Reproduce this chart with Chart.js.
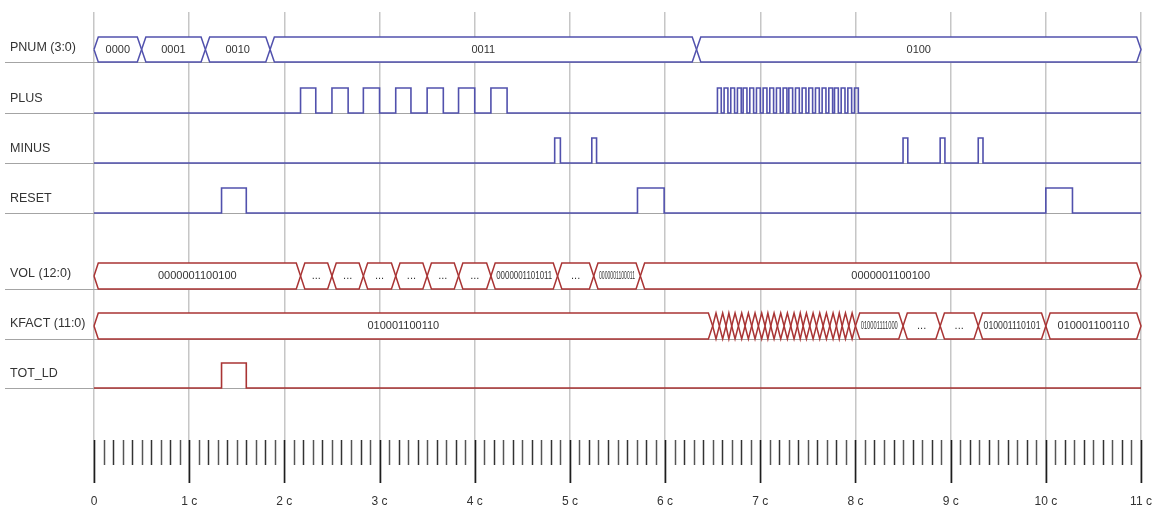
<!DOCTYPE html>
<html>
<head>
<meta charset="utf-8">
<script src="https://cdn.jsdelivr.net/npm/chart.js@4"></script>
<style>
  html, body { margin: 0; padding: 0; background: #ffffff; }
  #wrap { width: 1153px; height: 508px; }
</style>
</head>
<body>
<div id="wrap"><canvas id="tim" width="1153" height="508"></canvas></div>
<script>
// ---- time axis (clock cycles) ----
const cycleLabels = ['0', '1 c', '2 c', '3 c', '4 c', '5 c', '6 c', '7 c', '8 c', '9 c', '10 c', '11 c'];

// ---- PNUM (3:0) bus ----
const pnumEdges  = [0, 0.5, 1.17, 1.85, 6.33, 11];
const pnumValues = ['0000', '0001', '0010', '0011', '0100'];

// ---- PLUS pulses ----
const plusRise = [2.17, 2.5, 2.83, 3.17, 3.5, 3.83, 4.17,
  6.55, 6.62, 6.69, 6.76, 6.82, 6.89, 6.96, 7.03, 7.1, 7.17, 7.24,
  7.3, 7.37, 7.44, 7.51, 7.58, 7.65, 7.72, 7.78, 7.85, 7.92, 7.99];
const plusFall = [2.33, 2.67, 3.0, 3.33, 3.67, 4.0, 4.34,
  6.59, 6.66, 6.73, 6.8, 6.86, 6.93, 7.0, 7.07, 7.14, 7.21, 7.28,
  7.34, 7.41, 7.48, 7.55, 7.62, 7.69, 7.76, 7.82, 7.89, 7.96, 8.03];

// ---- MINUS pulses ----
const minusRise = [4.84, 5.23, 8.5, 8.89, 9.29];
const minusFall = [4.9, 5.28, 8.55, 8.94, 9.34];

// ---- RESET pulses ----
const resetRise = [1.34, 5.71, 10.0];
const resetFall = [1.6, 5.99, 10.28];

// ---- VOL (12:0) bus ----
const volEdges  = [0, 2.17, 2.5, 2.83, 3.17, 3.5, 3.83, 4.17, 4.87, 5.25, 5.74, 11];
const volValues = ['0000001100100', '...', '...', '...', '...', '...', '...',
  '0000001101011', '...', '0000001100011', '0000001100100'];

// ---- KFACT (11:0) bus ----
const kfactEdges = [0, 6.5, 6.57, 6.64, 6.7, 6.77, 6.84, 6.91, 6.98, 7.05, 7.11, 7.18,
  7.25, 7.32, 7.39, 7.45, 7.52, 7.59, 7.66, 7.73, 7.8, 7.86, 7.93, 8.0,
  8.5, 8.89, 9.29, 10.0, 11];
const kfactValues = ['010001100110',
  '', '', '', '', '', '', '', '', '', '', '', '', '', '', '', '', '', '', '', '', '', '',
  '010001111000', '...', '...', '010001110101', '010001100110'];

// ---- TOT_LD pulse ----
const totRise = [1.34];
const totFall = [1.6];

// ---- row layout (y in px below the top of the plot area) ----
const BLUE = '#5151ad';
const RED = '#a93434';
const rows = [
  { name: 'PNUM (3:0)',   top: 25,  bot: 50 },
  { name: 'PLUS',         top: 76,  bot: 101 },
  { name: 'MINUS',        top: 126, bot: 151 },
  { name: 'RESET',        top: 176, bot: 201 },
  { name: 'VOL (12:0)',   top: 251, bot: 277 },
  { name: 'KFACT (11:0)', top: 301, bot: 327 },
  { name: 'TOT_LD',       top: 351, bot: 376 }
];
const RULER_TOP = 428, RULER_MINOR = 453, RULER_BOT = 471;
const SLANT = 0.045;   // half width of a bus transition, in cycles
const FONT = '"Liberation Sans", Arial, sans-serif';

function pulseTrain(rise, fall, row) {
  const pts = [{ x: 0, y: row.bot }];
  rise.forEach((r, i) => {
    pts.push({ x: r, y: row.bot }, { x: r, y: row.top },
             { x: fall[i], y: row.top }, { x: fall[i], y: row.bot });
  });
  pts.push({ x: 11, y: row.bot });
  return pts;
}

function hexagon(ts, te, row) {
  const d = Math.min(SLANT, (te - ts) / 2);
  const mid = (row.top + row.bot) / 2;
  return [
    { x: ts, y: mid }, { x: ts + d, y: row.top }, { x: te - d, y: row.top },
    { x: te, y: mid }, { x: te - d, y: row.bot }, { x: ts + d, y: row.bot },
    { x: ts, y: mid }
  ];
}

const datasets = [];
const busLabels = [];
function addBus(edges, values, row, color) {
  for (let i = 0; i < values.length; i++) {
    datasets.push({
      data: hexagon(edges[i], edges[i + 1], row),
      borderColor: color, borderWidth: 1.5,
      backgroundColor: '#ffffff', fill: 'shape',
      pointRadius: 0, tension: 0, clip: false
    });
    busLabels.push({ ts: edges[i], te: edges[i + 1], text: values[i], row: row });
  }
}
function addSignal(rise, fall, row, color) {
  datasets.push({
    data: pulseTrain(rise, fall, row),
    borderColor: color, borderWidth: 1.6, fill: false,
    pointRadius: 0, tension: 0, clip: false
  });
}

addBus(pnumEdges, pnumValues, rows[0], BLUE);
addSignal(plusRise, plusFall, rows[1], BLUE);
addSignal(minusRise, minusFall, rows[2], BLUE);
addSignal(resetRise, resetFall, rows[3], BLUE);
addBus(volEdges, volValues, rows[4], RED);
addBus(kfactEdges, kfactValues, rows[5], RED);
addSignal(totRise, totFall, rows[6], RED);

// baselines, signal names and clock ruler
const timingDecor = {
  id: 'timingDecor',
  beforeDatasetsDraw(chart) {
    const { ctx, scales: { x, y } } = chart;
    ctx.save();
    ctx.strokeStyle = '#a4a4a4';
    ctx.lineWidth = 1.2;
    rows.forEach(r => {
      const py = Math.round(y.getPixelForValue(r.bot)) + 0.5;
      ctx.beginPath();
      ctx.moveTo(5, py);
      ctx.lineTo(x.getPixelForValue(11), py);
      ctx.stroke();
    });
    // names
    ctx.fillStyle = '#333333';
    ctx.font = '12.5px ' + FONT;
    ctx.textBaseline = 'middle';
    ctx.textAlign = 'left';
    rows.forEach(r => {
      ctx.fillText(r.name, 10, y.getPixelForValue((r.top + r.bot) / 2) - 2);
    });
    // ruler
    const yt = y.getPixelForValue(RULER_TOP);
    const ym = y.getPixelForValue(RULER_MINOR);
    const yb = y.getPixelForValue(RULER_BOT);
    for (let i = 0; i <= 110; i++) {
      const px = Math.round(x.getPixelForValue(i / 10)) + 0.5;
      const major = i % 10 === 0;
      ctx.strokeStyle = major ? '#1e1e1e' : (i % 2 ? '#555555' : '#333333');
      ctx.lineWidth = major ? 1.6 : 1.5;
      ctx.beginPath();
      ctx.moveTo(px, yt);
      ctx.lineTo(px, major ? yb : ym);
      ctx.stroke();
    }
    ctx.restore();
  },
  afterDatasetsDraw(chart) {
    const { ctx, scales: { x, y } } = chart;
    ctx.save();
    ctx.fillStyle = '#333333';
    ctx.font = '11px ' + FONT;
    ctx.textAlign = 'center';
    ctx.textBaseline = 'middle';
    busLabels.forEach(b => {
      if (!b.text) return;
      const x0 = x.getPixelForValue(b.ts), x1 = x.getPixelForValue(b.te);
      const slantPx = x.getPixelForValue(SLANT) - x.getPixelForValue(0);
      const room = Math.max(4, x1 - x0 - 2 * slantPx - 2);
      const cy = y.getPixelForValue((b.row.top + b.row.bot) / 2);
      ctx.fillText(b.text, (x0 + x1) / 2, cy, room);
    });
    ctx.restore();
  }
};

new Chart(document.getElementById('tim'), {
  type: 'line',
  data: { datasets },
  options: {
    responsive: false,
    animation: false,
    events: [],
    layout: { padding: { left: 94, right: 12, top: 12, bottom: 0 } },
    plugins: { legend: { display: false }, tooltip: { enabled: false } },
    scales: {
      x: {
        type: 'linear', min: 0, max: 11,
        border: { display: false },
        grid: { color: '#c6c6c6', lineWidth: 1.5, drawTicks: false },
        ticks: {
          stepSize: 1, padding: 11, maxRotation: 0, autoSkip: false,
          color: '#333333',
          font: { family: FONT, size: 12 },
          callback: v => cycleLabels[v]
        },
        afterFit(scale) {
          scale.height = 25;
          scale.paddingLeft = 0;
          scale.paddingRight = 0;
        }
      },
      y: {
        type: 'linear', min: 0, max: 471, reverse: true, display: false
      }
    }
  },
  plugins: [timingDecor]
});
</script>
</body>
</html>
